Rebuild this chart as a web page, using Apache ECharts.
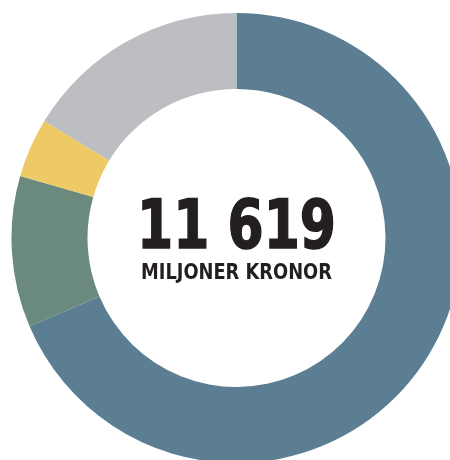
<!DOCTYPE html>
<html>
<head>
<meta charset="utf-8">
<script src="https://cdn.jsdelivr.net/npm/echarts@6/dist/echarts.min.js"></script>
<style>html,body{margin:0;padding:0;background:#fff}#c{width:450px;height:460px}</style>
</head>
<body>
<div id="c"></div>
<script>
const categories = ['Blå', 'Grön', 'Gul', 'Grå'];
const values = [7969, 1262, 494, 1894];
const colors = ['#5b7e92', '#6a8a7d', '#eeca66', '#bdbec2'];
const totalLabel = '11 619';
const unitLabel = 'MILJONER KRONOR';

const chart = echarts.init(document.getElementById('c'), null, {renderer: 'canvas'});
chart.setOption({
  animation: false,
  backgroundColor: '#ffffff',
  series: [{
    type: 'pie',
    center: [236.5, 238],
    radius: [149, 225],
    startAngle: 90,
    clockwise: true,
    silent: true,
    label: {show: false},
    labelLine: {show: false},
    data: categories.map((c, i) => ({name: c, value: values[i], itemStyle: {color: colors[i]}}))
  }],
  graphic: [
    {type: 'text', x: 236.5, y: 230, scaleX: 0.85, style: {text: totalLabel, fill: '#231f20', font: 'bold 68px "DejaVu Sans Condensed", sans-serif', textAlign: 'center', textVerticalAlign: 'middle', stroke: '#231f20', lineWidth: 1.5}},
    {type: 'text', x: 236.5, y: 273, scaleX: 0.9, style: {text: unitLabel, fill: '#231f20', font: 'bold 22px "DejaVu Sans Condensed", sans-serif', textAlign: 'center', textVerticalAlign: 'middle'}}
  ]
});
</script>
</body>
</html>
